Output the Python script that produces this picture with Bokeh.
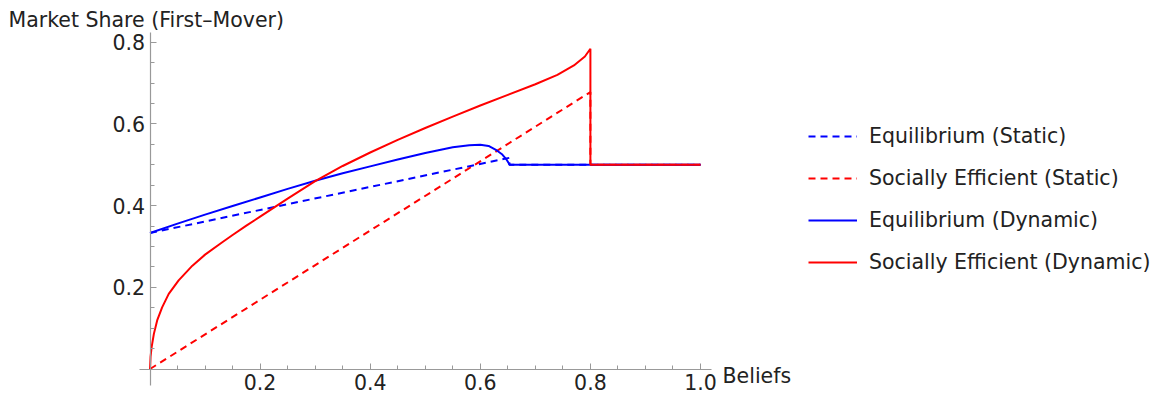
from bokeh.plotting import figure
from bokeh.models import Range1d, FixedTicker, Label, Legend, LegendItem, PrintfTickFormatter
from bokeh.embed import file_html
from bokeh.resources import INLINE

# ---- data ----
beliefs_eq_static = [0.0, 0.653, 0.653, 1.0]
share_eq_static = [0.333, 0.517, 0.5, 0.5]

beliefs_se_static = [0.0, 0.8, 0.8, 1.0]
share_se_static = [0.0, 0.678, 0.5, 0.5]

beliefs_eq_dynamic = [0.0, 0.05, 0.1, 0.15, 0.2, 0.25, 0.3, 0.35, 0.4, 0.45, 0.5,
                      0.55, 0.58, 0.6, 0.615, 0.63, 0.64, 0.647, 0.652, 0.653, 1.0]
share_eq_dynamic = [0.333, 0.356, 0.378, 0.399, 0.42, 0.441, 0.461, 0.479, 0.496, 0.513, 0.529,
                    0.543, 0.548, 0.549, 0.546, 0.535, 0.525, 0.514, 0.503, 0.5, 0.5]

beliefs_se_dynamic = [0.0, 0.001, 0.003, 0.007, 0.013, 0.022, 0.034, 0.052, 0.077, 0.1,
                      0.13, 0.15, 0.175, 0.2, 0.225, 0.25, 0.3, 0.35, 0.4, 0.45, 0.5,
                      0.55, 0.6, 0.65, 0.7, 0.74, 0.77, 0.79, 0.8, 0.8, 1.0]
share_se_dynamic = [0.0, 0.03, 0.054, 0.086, 0.119, 0.151, 0.184, 0.217, 0.253, 0.28,
                    0.309, 0.328, 0.351, 0.373, 0.395, 0.417, 0.46, 0.497, 0.53, 0.561, 0.59,
                    0.618, 0.645, 0.671, 0.697, 0.72, 0.743, 0.765, 0.784, 0.5, 0.5]

x_major_ticks = [0.2, 0.4, 0.6, 0.8, 1.0]
x_minor_ticks = [0.05, 0.1, 0.15, 0.2, 0.25, 0.3, 0.35, 0.4, 0.45, 0.5,
                 0.55, 0.6, 0.65, 0.7, 0.75, 0.8, 0.85, 0.9, 0.95, 1.0]
y_major_ticks = [0.2, 0.4, 0.6, 0.8]
y_minor_ticks = [0.05, 0.1, 0.15, 0.2, 0.25, 0.3, 0.35, 0.4, 0.45, 0.5,
                 0.55, 0.6, 0.65, 0.7, 0.75, 0.8]

series_labels = ["Equilibrium (Static)", "Socially Efficient (Static)",
                 "Equilibrium (Dynamic)", "Socially Efficient (Dynamic)"]
x_label = "Beliefs"
y_label = "Market Share (First\u2013Mover)"

# ---- styling ----
FONT = "DejaVu Sans"
FS = "20.5px"
TEXT_COLOR = "#222222"
AXIS_COLOR = "#999999"
BLUE = "#0000ff"
RED = "#ff0000"
DASH = "7 5"
LW = 2

p = figure(width=1165, height=400,
           x_range=Range1d(-0.2716, 1.8447), y_range=Range1d(-0.0771, 0.9021),
           output_backend="svg", toolbar_location=None, min_border=0,
           outline_line_color=None, background_fill_color="white")
p.grid.visible = False

for ax in (p.xaxis, p.yaxis):
    ax.fixed_location = 0
    ax.axis_line_color = AXIS_COLOR
    ax.axis_line_width = 1.2
    ax.major_tick_line_color = AXIS_COLOR
    ax.minor_tick_line_color = AXIS_COLOR
    ax.major_tick_out = 0
    ax.major_tick_in = 6
    ax.minor_tick_out = 0
    ax.minor_tick_in = 4
    ax.major_label_text_font = FONT
    ax.major_label_text_font_size = FS
    ax.major_label_text_color = TEXT_COLOR
    ax.formatter = PrintfTickFormatter(format="%.1f")

p.xaxis.ticker = FixedTicker(ticks=x_major_ticks, minor_ticks=x_minor_ticks)
p.yaxis.ticker = FixedTicker(ticks=y_major_ticks, minor_ticks=y_minor_ticks)
p.xaxis.bounds = (-0.02, 1.02)
p.yaxis.bounds = (-0.04, 0.824)
p.xaxis.major_label_standoff = 5
p.yaxis.major_label_standoff = 5

r1 = p.line(beliefs_eq_static, share_eq_static, line_color=BLUE, line_width=LW, line_dash=DASH)
r2 = p.line(beliefs_se_static, share_se_static, line_color=RED, line_width=LW, line_dash=DASH)
r3 = p.line(beliefs_eq_dynamic, share_eq_dynamic, line_color=BLUE, line_width=LW)
r4 = p.line(beliefs_se_dynamic, share_se_dynamic, line_color=RED, line_width=LW)

p.add_layout(Label(x=-0.2570, y=0.8541, text=y_label, text_font=FONT, text_font_size=FS,
                   text_color=TEXT_COLOR, text_baseline="alphabetic", text_align="left"))
p.add_layout(Label(x=1.04, y=-0.0176, text=x_label, text_font=FONT, text_font_size=FS,
                   text_color=TEXT_COLOR, text_baseline="alphabetic", text_align="left"))

legend = Legend(items=[LegendItem(label=series_labels[i], renderers=[r])
                       for i, r in enumerate([r1, r2, r3, r4])],
                location=(808, 117), orientation="vertical",
                label_text_font=FONT, label_text_font_size=FS, label_text_color=TEXT_COLOR,
                glyph_width=49, glyph_height=42, label_height=42, label_standoff=12,
                spacing=0, padding=0, margin=0,
                border_line_color=None, background_fill_alpha=0)
p.add_layout(legend)

open("out.html", "w").write(file_html(p, INLINE))
